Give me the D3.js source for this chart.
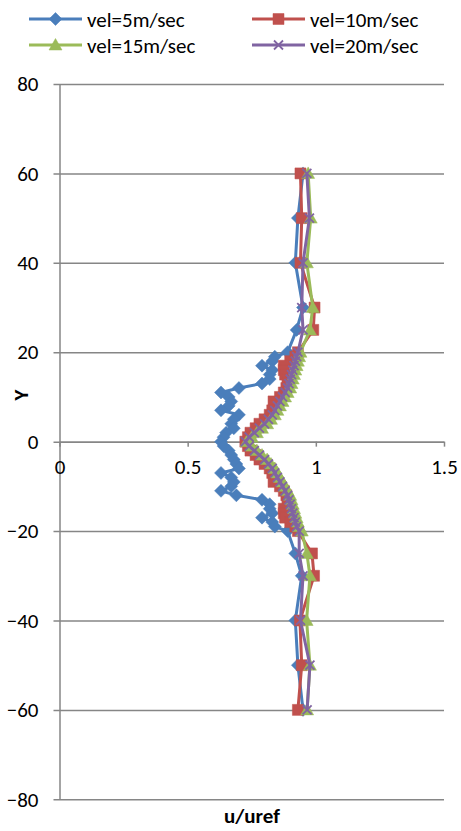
<!DOCTYPE html>
<html>
<head>
<meta charset="utf-8">
<script src="https://cdn.jsdelivr.net/npm/d3@7"></script>
<style>
  html, body { margin: 0; padding: 0; background: #fff; }
  svg { display: block; }
  text { font-family: Carlito, Calibri, "Liberation Sans", Arial, sans-serif; fill: #000; }
</style>
</head>
<body>
<svg id="chart" width="461" height="831"></svg>
<script>
// Vertical positions of the sampled points
const yLevels = [60, 50, 40, 30, 25,
  20, 19, 18, 17, 16, 15, 14, 13, 12, 11, 10, 9, 8, 7, 6, 5, 4, 3, 2, 1, 0,
  -1, -2, -3, -4, -5, -6, -7, -8, -9, -10, -11, -12, -13, -14, -15, -16, -17, -18, -19, -20,
  -25, -30, -40, -50, -60];

// u/uref profiles for each inflow velocity
const vel5 = [0.95, 0.93, 0.92, 0.95, 0.925,
  0.89, 0.84, 0.83, 0.79, 0.83, 0.82, 0.82, 0.79, 0.70, 0.63, 0.66, 0.67, 0.66, 0.63, 0.70, 0.68, 0.67, 0.68, 0.65, 0.64, 0.63,
  0.64, 0.66, 0.67, 0.68, 0.69, 0.70, 0.63, 0.67, 0.68, 0.67, 0.63, 0.69, 0.79, 0.82, 0.82, 0.83, 0.79, 0.83, 0.84, 0.89,
  0.92, 0.945, 0.92, 0.93, 0.95];

const vel10 = [0.94, 0.945, 0.94, 0.995, 0.99,
  0.93, 0.92, 0.90, 0.875, 0.875, 0.88, 0.89, 0.89, 0.885, 0.875, 0.86, 0.835, 0.84, 0.83, 0.82, 0.80, 0.78, 0.765, 0.745, 0.735, 0.725,
  0.735, 0.745, 0.765, 0.78, 0.80, 0.82, 0.83, 0.84, 0.835, 0.86, 0.875, 0.885, 0.89, 0.89, 0.875, 0.875, 0.88, 0.90, 0.92, 0.93,
  0.985, 0.993, 0.938, 0.945, 0.93];

const vel15 = [0.97, 0.98, 0.965, 0.988, 0.977,
  0.94, 0.935, 0.93, 0.925, 0.92, 0.915, 0.91, 0.905, 0.90, 0.89, 0.88, 0.87, 0.86, 0.85, 0.84, 0.825, 0.81, 0.79, 0.77, 0.75, 0.73,
  0.75, 0.77, 0.79, 0.81, 0.825, 0.84, 0.85, 0.86, 0.87, 0.88, 0.89, 0.90, 0.905, 0.91, 0.915, 0.92, 0.925, 0.93, 0.935, 0.945,
  0.965, 0.977, 0.964, 0.977, 0.966];

const vel20 = [0.965, 0.975, 0.95, 0.945, 0.95,
  0.93, 0.925, 0.92, 0.915, 0.91, 0.905, 0.90, 0.895, 0.89, 0.88, 0.87, 0.86, 0.85, 0.84, 0.83, 0.815, 0.80, 0.78, 0.76, 0.74, 0.725,
  0.74, 0.76, 0.78, 0.80, 0.815, 0.83, 0.84, 0.85, 0.86, 0.87, 0.88, 0.89, 0.895, 0.90, 0.905, 0.91, 0.915, 0.92, 0.925, 0.935,
  0.935, 0.95, 0.94, 0.977, 0.966];

const seriesNames = ["vel=5m/sec", "vel=10m/sec", "vel=15m/sec", "vel=20m/sec"];
const xTicks = [0, 0.5, 1, 1.5];
const yTicks = [-80, -60, -40, -20, 0, 20, 40, 60, 80];

const series = [
  { name: seriesNames[0], values: vel5,  color: "#4A7EBB", marker: "diamond" },
  { name: seriesNames[1], values: vel10, color: "#C0504D", marker: "square" },
  { name: seriesNames[2], values: vel15, color: "#9BBB59", marker: "triangle" },
  { name: seriesNames[3], values: vel20, color: "#8064A2", marker: "cross" }
];

const svg = d3.select("#chart");
const plotLeft = 59.5, plotRight = 444, plotTop = 84, plotBottom = 799.3;
const x = d3.scaleLinear().domain([0, 1.5]).range([plotLeft, plotRight]);
const y = d3.scaleLinear().domain([-80, 80]).range([plotBottom, plotTop]);
const gridColor = "#868686";
const fontStack = "Carlito, Calibri, 'Liberation Sans', Arial, sans-serif";
const fontSize = 21;

// Horizontal gridlines with left ticks and labels
const yAxis = d3.axisLeft(y).tickValues(yTicks).tickSize(-(plotRight - plotLeft)).tickSizeOuter(0).tickPadding(21);
const gy = svg.append("g").attr("transform", `translate(${plotLeft},0)`).call(yAxis);
gy.select(".domain").attr("stroke", gridColor).attr("stroke-width", 1.5);
gy.selectAll(".tick line").attr("stroke", gridColor).attr("stroke-width", 1.5).attr("x1", -6);
gy.selectAll(".tick text").attr("font-size", fontSize).attr("font-family", fontStack).attr("fill", "#000");

// Horizontal axis crossing at Y = 0
const xAxis = d3.axisBottom(x).tickValues(xTicks).tickFormat(d3.format("")).tickSize(5).tickSizeOuter(0).tickPadding(12);
const gx = svg.append("g").attr("transform", `translate(0,${y(0)})`).call(xAxis);
gx.select(".domain").attr("stroke", gridColor).attr("stroke-width", 1.5);
gx.selectAll(".tick line").attr("stroke", gridColor).attr("stroke-width", 1.5);
gx.selectAll(".tick text").attr("font-size", fontSize).attr("font-family", fontStack).attr("fill", "#000");

// Marker shapes
function markerPath(type) {
  switch (type) {
    case "diamond": return "M0,-6.5L6.5,0L0,6.5L-6.5,0Z";
    case "square": return "M-5.5,-5.5H5.5V5.5H-5.5Z";
    case "triangle": return "M0,-6.5L6.5,5H-6.5Z";
    default: return "M-4.5,-4.5L4.5,4.5M-4.5,4.5L4.5,-4.5";
  }
}

const line = d3.line().x(d => x(d.v)).y(d => y(d.y));

series.forEach(s => {
  const pts = yLevels.map((yy, i) => ({ y: yy, v: s.values[i] }));
  const g = svg.append("g");
  g.append("path").datum(pts).attr("d", line)
    .attr("fill", "none").attr("stroke", s.color).attr("stroke-width", 3)
    .attr("stroke-linejoin", "round");
  g.selectAll("path.m").data(pts).join("path").attr("class", "m")
    .attr("transform", d => `translate(${x(d.v)},${y(d.y)})`)
    .attr("d", markerPath(s.marker))
    .attr("fill", s.marker === "cross" ? "none" : s.color)
    .attr("stroke", s.color)
    .attr("stroke-width", s.marker === "cross" ? 1.8 : 0.5);
});

// Legend
const legendPos = [[29, 19], [252, 19], [29, 45], [252, 45]];
series.forEach((s, i) => {
  const [lx, ly] = legendPos[i];
  const g = svg.append("g").attr("transform", `translate(${lx},${ly})`);
  g.append("line").attr("x1", 0).attr("x2", 53).attr("y1", 0).attr("y2", 0)
    .attr("stroke", s.color).attr("stroke-width", 3);
  g.append("path").attr("transform", "translate(26.5,0)").attr("d", markerPath(s.marker))
    .attr("fill", s.marker === "cross" ? "none" : s.color)
    .attr("stroke", s.color).attr("stroke-width", s.marker === "cross" ? 1.8 : 0.5);
  g.append("text").attr("x", 58).attr("y", 7.5).attr("font-size", fontSize).text(s.name);
});

// Axis titles
svg.append("text").attr("x", 252).attr("y", 823).attr("text-anchor", "middle")
  .attr("font-size", fontSize).attr("font-weight", "bold").text("u/uref");
svg.append("text").attr("transform", "translate(28,395) rotate(-90)").attr("text-anchor", "middle")
  .attr("font-size", fontSize).attr("font-weight", "bold").text("Y");
</script>
</body>
</html>
